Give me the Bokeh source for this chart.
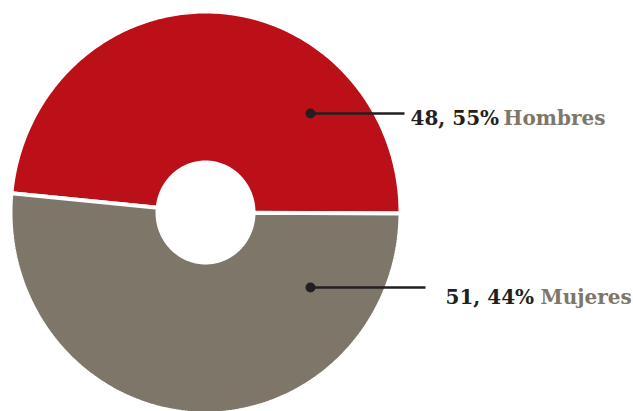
import numpy as np
from bokeh.plotting import figure
from bokeh.models import Range1d, ColumnDataSource
from bokeh.core.properties import value
from bokeh.embed import file_html
from bokeh.resources import INLINE

# ---- data ----
categories = ["Hombres", "Mujeres"]
percentages = [48.55, 51.44]
value_labels = ["48, 55%", "51, 44%"]
colors = ["#bc1019", "#7d7669"]

# ---- layout ----
W, H = 633, 411
CX, CY = 205, 212          # pie centre in pixels
RX, RY = 195, 201          # outer radii (slightly elliptical like the reference)
IRX, IRY = 48, 50          # inner hole radii
START_DEG = -0.3           # first slice starts at the right, turns counter-clockwise

p = figure(width=W, height=H, output_backend="svg", toolbar_location=None,
           x_range=Range1d(-CX, W - CX), y_range=Range1d(-(H - CY), CY),
           min_border=0, outline_line_color=None)
p.axis.visible = False
p.grid.visible = False
p.background_fill_color = "white"
p.border_fill_color = "white"

# slices from the percentages
total = sum(percentages)
xs, ys = [], []
a0 = np.deg2rad(START_DEG)
for pct in percentages:
    a1 = a0 + 2 * np.pi * pct / total
    t = np.linspace(a0, a1, 200)
    ox, oy = RX * np.cos(t), RY * np.sin(t)
    ix, iy = IRX * np.cos(t[::-1]), IRY * np.sin(t[::-1])
    xs.append(list(np.concatenate([ox, ix])))
    ys.append(list(np.concatenate([oy, iy])))
    a0 = a1

src = ColumnDataSource(dict(xs=xs, ys=ys, color=colors, cat=categories))
p.patches("xs", "ys", source=src, fill_color="color", line_color="white", line_width=4)

# ---- labels (positions in pixels, converted to data coords) ----
dot_px = [(310, 113), (310, 287)]
line_end_px = [404, 425]
val_x_px = [410, 445]
name_x_px = [503, 540]
baseline_px = [117, 296]
font = value("DejaVu Serif")

for i in range(len(categories)):
    dx, dy = dot_px[i][0] - CX, CY - dot_px[i][1]
    ex = line_end_px[i] - CX
    ty = CY - baseline_px[i]
    p.line([dx, ex], [dy, dy], line_color="#231f20", line_width=2.5)
    p.scatter([dx], [dy], size=10, fill_color="#231f20", line_color=None)
    p.text([val_x_px[i] - CX], [ty], text=[value_labels[i]], text_font=font,
           text_font_style="bold", text_font_size="20px", text_color="#231f20",
           text_baseline="alphabetic", text_align="left")
    p.text([name_x_px[i] - CX], [ty], text=[categories[i]], text_font=font,
           text_font_style="bold", text_font_size="20px", text_color="#7d7669",
           text_baseline="alphabetic", text_align="left")

open("out.html", "w").write(file_html(p, INLINE))
